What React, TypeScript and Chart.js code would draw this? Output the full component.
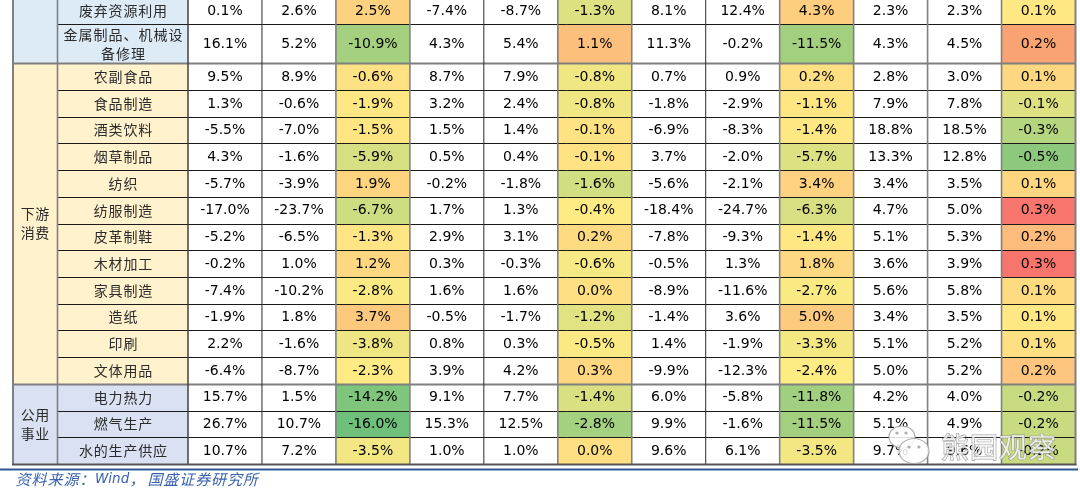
import React, { useEffect, useRef } from 'react';
import { Chart, registerables } from 'chart.js';

Chart.register(...registerables);

// ---------- data ----------
const COLUMNS = ['c1', 'c2', 'c3', 'c4', 'c5', 'c6', 'c7', 'c8', 'c9', 'c10', 'c11', 'c12'];

const ROW_NAMES = [
  '废弃资源利用',
  '金属制品、机械设备修理',
  '农副食品',
  '食品制造',
  '酒类饮料',
  '烟草制品',
  '纺织',
  '纺服制造',
  '皮革制鞋',
  '木材加工',
  '家具制造',
  '造纸',
  '印刷',
  '文体用品',
  '电力热力',
  '燃气生产',
  '水的生产供应',
];

const GROUP_LABELS = ['', '下游消费', '公用事业'];
const GROUP_SIZES = [2, 12, 3];

const vFeiqi = [0.1, 2.6, 2.5, -7.4, -8.7, -1.3, 8.1, 12.4, 4.3, 2.3, 2.3, 0.1];
const vJinshu = [16.1, 5.2, -10.9, 4.3, 5.4, 1.1, 11.3, -0.2, -11.5, 4.3, 4.5, 0.2];
const vNongfu = [9.5, 8.9, -0.6, 8.7, 7.9, -0.8, 0.7, 0.9, 0.2, 2.8, 3.0, 0.1];
const vShipin = [1.3, -0.6, -1.9, 3.2, 2.4, -0.8, -1.8, -2.9, -1.1, 7.9, 7.8, -0.1];
const vJiulei = [-5.5, -7.0, -1.5, 1.5, 1.4, -0.1, -6.9, -8.3, -1.4, 18.8, 18.5, -0.3];
const vYancao = [4.3, -1.6, -5.9, 0.5, 0.4, -0.1, 3.7, -2.0, -5.7, 13.3, 12.8, -0.5];
const vFangzhi = [-5.7, -3.9, 1.9, -0.2, -1.8, -1.6, -5.6, -2.1, 3.4, 3.4, 3.5, 0.1];
const vFangfu = [-17.0, -23.7, -6.7, 1.7, 1.3, -0.4, -18.4, -24.7, -6.3, 4.7, 5.0, 0.3];
const vPige = [-5.2, -6.5, -1.3, 2.9, 3.1, 0.2, -7.8, -9.3, -1.4, 5.1, 5.3, 0.2];
const vMucai = [-0.2, 1.0, 1.2, 0.3, -0.3, -0.6, -0.5, 1.3, 1.8, 3.6, 3.9, 0.3];
const vJiaju = [-7.4, -10.2, -2.8, 1.6, 1.6, 0.0, -8.9, -11.6, -2.7, 5.6, 5.8, 0.1];
const vZaozhi = [-1.9, 1.8, 3.7, -0.5, -1.7, -1.2, -1.4, 3.6, 5.0, 3.4, 3.5, 0.1];
const vYinshua = [2.2, -1.6, -3.8, 0.8, 0.3, -0.5, 1.4, -1.9, -3.3, 5.1, 5.2, 0.1];
const vWenti = [-6.4, -8.7, -2.3, 3.9, 4.2, 0.3, -9.9, -12.3, -2.4, 5.0, 5.2, 0.2];
const vDianli = [15.7, 1.5, -14.2, 9.1, 7.7, -1.4, 6.0, -5.8, -11.8, 4.2, 4.0, -0.2];
const vRanqi = [26.7, 10.7, -16.0, 15.3, 12.5, -2.8, 9.9, -1.6, -11.5, 5.1, 4.9, -0.2];
const vShui = [10.7, 7.2, -3.5, 1.0, 1.0, 0.0, 9.6, 6.1, -3.5, 9.7, 9.6, -0.2];

const ROW_VALUES = [
  vFeiqi, vJinshu, vNongfu, vShipin, vJiulei, vYancao, vFangzhi, vFangfu, vPige,
  vMucai, vJiaju, vZaozhi, vYinshua, vWenti, vDianli, vRanqi, vShui,
];

const SOURCE_PARTS = ['资料来源：', 'Wind', '，', '国盛证券研究所'];
const WATERMARK = '熊园观察';

// ---------- styles ----------
const HEAT_COLS = [2, 5, 8, 11];
const HEAT_COLORS = [
  ['#FDD27F', '#DDE182', '#FDCE7E', '#FFE883'],
  ['#A4D07F', '#FDC07C', '#A3D07F', '#F9A272'],
  ['#FEE182', '#F0E783', '#FEE082', '#FED880'],
  ['#FFE883', '#F0E783', '#FFE683', '#DDE182'],
  ['#FFE683', '#FFE282', '#FFE783', '#B5D67F'],
  ['#D6DF82', '#FFE282', '#DCE182', '#8DC97D'],
  ['#FED47F', '#D1DE81', '#FED27F', '#FED680'],
  ['#CDDD81', '#FFEB84', '#D7DF82', '#F8766D'],
  ['#FFE583', '#FEDA81', '#FFE783', '#FDBC7B'],
  ['#FED880', '#F7E984', '#FED981', '#F8756D'],
  ['#FAEA84', '#FEDF82', '#FAEA84', '#FEDA80'],
  ['#FDC97D', '#E1E282', '#FDCB7E', '#FFE883'],
  ['#EEE683', '#FBEA84', '#F4E883', '#FEDF81'],
  ['#FFEB84', '#FED780', '#FDEB84', '#FDC57D'],
  ['#7FC57C', '#D9E082', '#A0D07F', '#C9DB80'],
  ['#6EC07B', '#A4D17F', '#A3D07F', '#C9DB80'],
  ['#F2E783', '#FEDF82', '#F2E783', '#C9DB80'],
];
const GROUP_COLORS = ['#DDEBF7', '#FFF2CC', '#D9E1F2'];

const W = 1080;
const H = 494;
const GROUP_X = 13;
const NAME_X = 57;
const NAME_MAX_CHARS = 8;
const TALL_ROW = 1.46;
const CJK_FONT = '"Noto Sans CJK SC", "Noto Sans CJK JP", sans-serif';
const NUM_FONT = '"DejaVu Sans", Verdana, sans-serif';

function wrapName(name: string): string[] {
  const out: string[] = [];
  for (let i = 0; i < name.length; i += NAME_MAX_CHARS) out.push(name.slice(i, i + NAME_MAX_CHARS));
  return out;
}

const ROW_SPANS = ROW_NAMES.map((n) => (wrapName(n).length > 1 ? TALL_ROW : 1));
const ROW_EDGES: number[] = [0];
ROW_SPANS.forEach((s, i) => ROW_EDGES.push(ROW_EDGES[i] + s));

function drawSpaced(ctx: CanvasRenderingContext2D, text: string, cx: number, cy: number, pitch: number) {
  const chars = Array.from(text);
  const start = cx - (chars.length * pitch) / 2;
  chars.forEach((ch, i) => {
    ctx.fillText(ch, start + i * pitch + pitch / 2, cy);
  });
}

const tablePlugin = {
  id: 'tablePlugin',
  beforeDraw(chart: any) {
    const ctx = chart.ctx as CanvasRenderingContext2D;
    ctx.save();
    ctx.fillStyle = '#FFFFFF';
    ctx.fillRect(0, 0, chart.width, chart.height);
    ctx.restore();
  },
  afterDatasetsDraw(chart: any) {
    const ctx = chart.ctx as CanvasRenderingContext2D;
    const xs = chart.scales.x;
    const ys = chart.scales.y;
    const ca = chart.chartArea;
    const colW = xs.getPixelForValue(1) - xs.getPixelForValue(0);
    const colEdge = (i: number) => xs.getPixelForValue(0) - colW / 2 + i * colW;
    const rowPx = (v: number) => ys.getPixelForValue(v);
    const left = colEdge(0);
    const right = colEdge(COLUMNS.length);
    const bottom = rowPx(ROW_EDGES[ROW_EDGES.length - 1]);

    ctx.save();
    let r0 = 0;
    const groupBounds: number[] = [];
    GROUP_SIZES.forEach((size, g) => {
      const top = rowPx(ROW_EDGES[r0]);
      const bot = rowPx(ROW_EDGES[r0 + size]);
      ctx.fillStyle = GROUP_COLORS[g];
      ctx.fillRect(GROUP_X, top, left - GROUP_X, bot - top);
      groupBounds.push(r0 + size);
      const label = GROUP_LABELS[g];
      if (label) {
        ctx.fillStyle = '#2B2B2B';
        ctx.font = `14px ${CJK_FONT}`;
        ctx.textAlign = 'center';
        ctx.textBaseline = 'middle';
        const cx = (GROUP_X + NAME_X) / 2;
        const cy = (top + bot) / 2;
        drawSpaced(ctx, label.slice(0, 2), cx, cy - 9.5, 14.4);
        drawSpaced(ctx, label.slice(2), cx, cy + 9.5, 14.4);
      }
      r0 += size;
    });

    // row names
    ctx.fillStyle = '#2B2B2B';
    ctx.font = `14px ${CJK_FONT}`;
    ctx.textAlign = 'center';
    ctx.textBaseline = 'middle';
    ROW_NAMES.forEach((name, r) => {
      const top = rowPx(ROW_EDGES[r]);
      const bot = rowPx(ROW_EDGES[r + 1]);
      const cy = (top + bot) / 2;
      const cx = (NAME_X + left) / 2 + 0.5;
      const lines = wrapName(name);
      if (lines.length === 1) drawSpaced(ctx, lines[0], cx, cy, 14.8);
      else {
        drawSpaced(ctx, lines[0], cx, cy - 9.5, 15);
        drawSpaced(ctx, lines[1], cx, cy + 9.5, 15);
      }
    });

    // value texts
    ctx.fillStyle = '#000000';
    ctx.font = `14px ${NUM_FONT}`;
    chart.data.datasets.forEach((ds: any, di: number) => {
      const meta = chart.getDatasetMeta(di);
      meta.data.forEach((el: any, i: number) => {
        const v = ds.values[i];
        const cy = (el.y + el.base) / 2;
        if (cy < ca.top) return;
        ctx.fillText(`${v.toFixed(1)}%`, el.x, cy + 0.5);
      });
    });

    const hline = (y: number, x0: number, x1: number, color: string, w: number) => {
      ctx.strokeStyle = color;
      ctx.lineWidth = w;
      ctx.beginPath();
      ctx.moveTo(x0, y);
      ctx.lineTo(x1, y);
      ctx.stroke();
    };
    const vline = (x: number, y0: number, y1: number, color: string, w: number) => {
      ctx.strokeStyle = color;
      ctx.lineWidth = w;
      ctx.beginPath();
      ctx.moveTo(x, y0);
      ctx.lineTo(x, y1);
      ctx.stroke();
    };

    for (let k = 1; k < ROW_EDGES.length - 1; k++) {
      const y = Math.round(rowPx(ROW_EDGES[k])) + 0.5;
      if (groupBounds.includes(k)) hline(y, GROUP_X, right, '#7F7F7F', 2);
      else hline(y, NAME_X, right, '#1A1A1A', 1);
    }
    for (let i = 1; i < COLUMNS.length; i++) {
      const x = colEdge(i);
      const heatAdj = HEAT_COLS.includes(i) || HEAT_COLS.includes(i - 1);
      if (heatAdj || i === 10) vline(x, 0, bottom, '#808080', 1.6);
      else vline(x, 0, bottom, '#2A2A2A', 1);
    }
    vline(GROUP_X, 0, bottom, '#808080', 2);
    vline(NAME_X + 0.5, 0, bottom, '#808080', 1.6);
    vline(left, 0, bottom, '#404040', 1.5);
    vline(right, 0, bottom + 1, '#808080', 2);
    hline(bottom + 0.5, GROUP_X - 1, right + 1, '#555555', 2);

    // footer rule + source
    hline(469.5, 0, 1078, '#2F5597', 2);
    ctx.fillStyle = '#3A62AE';
    ctx.textBaseline = 'middle';
    ctx.font = `italic 15px ${CJK_FONT}`;
    const sy = 479;
    drawSpaced(ctx, SOURCE_PARTS[0], 15 + (5 * 16) / 2, sy, 16);
    ctx.font = `italic 13.5px ${NUM_FONT}`;
    ctx.textAlign = 'left';
    ctx.fillText(SOURCE_PARTS[1], 95, sy);
    ctx.font = `italic 15px ${CJK_FONT}`;
    ctx.textAlign = 'center';
    drawSpaced(ctx, SOURCE_PARTS[2], 137, sy, 15);
    drawSpaced(ctx, SOURCE_PARTS[3], 147 + (7 * 15.9) / 2, sy, 15.9);
    ctx.restore();
  },
  afterDraw(chart: any) {
    const ctx = chart.ctx as CanvasRenderingContext2D;
    ctx.save();
    ctx.globalAlpha = 0.85;
    ctx.fillStyle = '#FFFFFF';
    ctx.strokeStyle = '#A0A0A0';
    ctx.lineWidth = 1.2;
    ctx.beginPath();
    ctx.ellipse(902, 437, 13, 11, 0, 0, Math.PI * 2);
    ctx.fill();
    ctx.stroke();
    ctx.beginPath();
    ctx.ellipse(914, 451, 15, 12.5, 0, 0, Math.PI * 2);
    ctx.fill();
    ctx.stroke();
    ctx.fillStyle = '#A0A0A0';
    [[897, 433], [906, 433], [909, 447], [919, 447]].forEach(([x, y]) => {
      ctx.beginPath();
      ctx.arc(x, y, 1.6, 0, Math.PI * 2);
      ctx.fill();
    });
    ctx.font = `28px ${CJK_FONT}`;
    ctx.textAlign = 'center';
    ctx.textBaseline = 'middle';
    ctx.lineWidth = 1.2;
    ctx.strokeStyle = '#909090';
    ctx.fillStyle = 'rgba(255,255,255,0.9)';
    Array.from(WATERMARK).forEach((ch, i) => {
      const x = 955 + i * 29;
      ctx.strokeText(ch, x, 447);
      ctx.fillText(ch, x, 447);
    });
    ctx.restore();
  },
};

export default function App() {
  const canvasRef = useRef<HTMLCanvasElement | null>(null);

  useEffect(() => {
    const canvas = canvasRef.current;
    if (!canvas) return;
    const datasets = ROW_VALUES.map((vals, r) => ({
      label: ROW_NAMES[r],
      data: vals.map(() => [ROW_EDGES[r], ROW_EDGES[r + 1]] as [number, number]),
      values: vals,
      backgroundColor: vals.map((_, c) => {
        const h = HEAT_COLS.indexOf(c);
        return h >= 0 ? HEAT_COLORS[r][h] : '#FFFFFF';
      }),
      borderWidth: 0,
      grouped: false,
      barPercentage: 1,
      categoryPercentage: 1,
    }));

    const chart = new Chart(canvas, {
      type: 'bar',
      data: { labels: COLUMNS, datasets: datasets as any },
      options: {
        animation: false,
        responsive: false,
        devicePixelRatio: 1,
        events: [],
        layout: { padding: { left: 188, right: 4.5, top: 0, bottom: 30 } },
        plugins: { legend: { display: false }, tooltip: { enabled: false } },
        scales: {
          x: { type: 'category', display: false, offset: true },
          y: {
            type: 'linear',
            display: false,
            reverse: true,
            min: 0.09,
            max: ROW_EDGES[ROW_EDGES.length - 1],
          },
        },
      },
      plugins: [tablePlugin],
    });
    return () => chart.destroy();
  }, []);

  return (
    <div style={{ position: 'absolute', left: 0, top: 0, width: W, height: H, background: '#fff' }}>
      <canvas ref={canvasRef} width={W} height={H} style={{ width: W, height: H, display: 'block' }} />
    </div>
  );
}
